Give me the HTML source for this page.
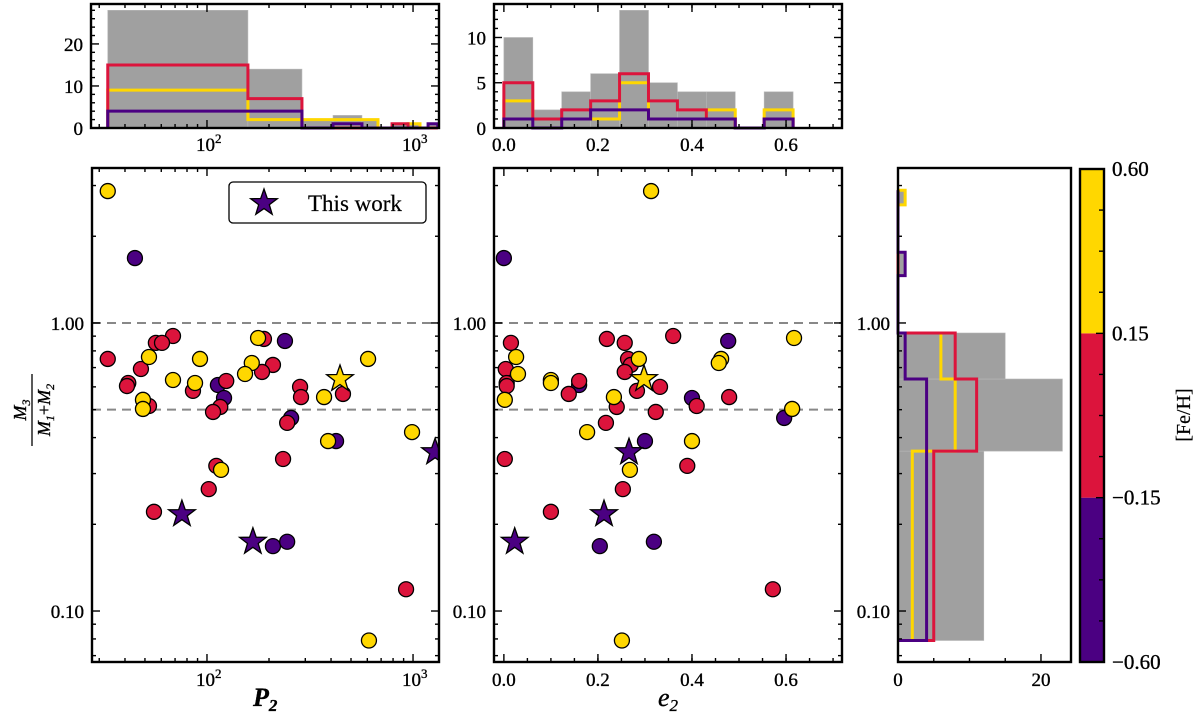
<!DOCTYPE html>
<html><head><meta charset="utf-8"><style>
html,body{margin:0;padding:0;background:#fff;}
svg{display:block;font-family:"Liberation Serif",serif;}
</style></head><body>
<svg id="fig" width="1200" height="720" viewBox="0 0 1200 720" xmlns="http://www.w3.org/2000/svg"></svg>
<script>
// ---------- data ----------
const yelP = [33,177,52.3,92.5,605,165,153,68.4,87.5,370,48.9,48.9,989,387,117,611];
const yelQ = [2.87,0.887,0.762,0.75,0.75,0.726,0.665,0.634,0.619,0.553,0.541,0.503,0.418,0.389,0.309,0.079];
const yelE = [0.313,0.617,0.026,0.287,0.462,0.457,0.030,0.1,0.1,0.234,0.002,0.613,0.177,0.40,0.268,0.251];
const redP = [68.4,189,56.5,60.5,33,209,47.8,185,124,41.5,40.9,283,85.5,457,286,52.3,116,107,245,234,111,102,55.3,925];
const redQ = [0.901,0.880,0.853,0.853,0.75,0.715,0.692,0.676,0.629,0.619,0.604,0.600,0.581,0.567,0.553,0.515,0.511,0.491,0.450,0.337,0.319,0.265,0.221,0.119];
const redE = [0.36,0.219,0.015,0.257,0.264,0.27,0.004,0.257,0.16,0.006,0.006,0.332,0.283,0.138,0.479,0.41,0.24,0.323,0.217,0.002,0.39,0.253,0.1,0.572];
const purP = [44.7,239,113,121,256,423,209,245];
const purQ = [1.68,0.866,0.609,0.549,0.468,0.389,0.168,0.174];
const purE = [0.0,0.477,0.16,0.40,0.596,0.3,0.204,0.319];
const starP = [1279,75.6,167,442];
const starQ = [0.356,0.217,0.174,0.639];
const starE = [0.266,0.213,0.023,0.298];
const starFeh = [-0.3,-0.3,-0.3,0.3];
const tlLo = [33,158,289,409,565,791,946,1183];
const tlHi = [158,289,409,565,676,946,1081,1318];
const tlGray = [28,14,2,3,2,1,1,1];
const tlYel = [9,2,2,2,2,0,1,0];
const tlRed = [15,7,0,0,0,1,0,0];
const tlPur = [4,4,0,1,0,0,0,1];
const tmLo = [0.0,0.0615,0.123,0.1845,0.246,0.3075,0.369,0.4305,0.492,0.5535];
const tmHi = [0.0615,0.123,0.1845,0.246,0.3075,0.369,0.4305,0.492,0.5535,0.615];
const tmGray = [10,2,4,6,13,5,4,4,0,4];
const tmYel = [3,1,1,1,5,1,1,2,0,2];
const tmRed = [5,1,2,3,6,3,2,1,0,1];
const tmPur = [1,0,1,2,2,1,1,1,0,1];
const rhLo = [0.079,0.359,0.639,1.46,2.57];
const rhHi = [0.359,0.639,0.923,1.76,2.89];
const rhGray = [12,23,15,1,1];
const rhYel = [2,8,6,0,1];
const rhRed = [5,11,8,0,0];
const rhPur = [4,4,1,1,0];
const cbBounds = [-0.60,-0.15,0.15,0.60];
const cbLabels = ["\u22120.60","\u22120.15","0.15","0.60"];

// ---------- helpers ----------
const NS="http://www.w3.org/2000/svg";
const svg=document.getElementById('fig');
function el(tag,attrs,parent){const e=document.createElementNS(NS,tag);for(const k in attrs)e.setAttribute(k,attrs[k]);(parent||svg).appendChild(e);return e;}
const YEL="#FFD700",RED="#DC143C",PUR="#4B0082",GRAY="#a0a0a0";
const FS=19;
function fehColor(v){return v>=0.15?YEL:(v>=-0.15?RED:PUR);}

const ML={x0:92,x1:439,y0:168,y1:662};
const MM={x0:494,x1:842,y0:168,y1:662};
const RH={x0:898,x1:1071,y0:168,y1:662};
const TL={x0:91,x1:439,y0:4,y1:128};
const TM={x0:494,x1:842,y0:4,y1:128};
const CB={x0:1080,x1:1104,y0:169,y1:662};
const lpMin=1.442,lpMax=3.126;
const lqMin=-1.177,lqMax=0.538;
const eMin=-0.021,eMax=0.719;
function xP(p){return ML.x0+(Math.log10(p)-lpMin)/(lpMax-lpMin)*(ML.x1-ML.x0);}
function xE(e){return MM.x0+(e-eMin)/(eMax-eMin)*(MM.x1-MM.x0);}
function yQ(q){return ML.y1-(Math.log10(q)-lqMin)/(lqMax-lqMin)*(ML.y1-ML.y0);}
function yTL(c){return TL.y1-c/29.5*(TL.y1-TL.y0);}
function yTM(c){return TM.y1-c/13.7*(TM.y1-TM.y0);}
function xRH(c){return RH.x0+c/24.2*(RH.x1-RH.x0);}

function txt(x,y,s,opts,parent){const t=el('text',Object.assign({x:x,y:y,'font-size':FS,fill:'#000',stroke:'#000','stroke-width':0.35},opts||{}),parent);t.textContent=s;return t;}
function frame(a,name){const r=el('rect',{x:a.x0,y:a.y0,width:a.x1-a.x0,height:a.y1-a.y0,fill:'none',stroke:'#000','stroke-width':2.4});}
function tickX(a,x,len){el('line',{x1:x,x2:x,y1:a.y1,y2:a.y1-len,stroke:'#000','stroke-width':1.4});el('line',{x1:x,x2:x,y1:a.y0,y2:a.y0+len,stroke:'#000','stroke-width':1.4});}
function tickY(a,y,len){el('line',{x1:a.x0,x2:a.x0+len,y1:y,y2:y,stroke:'#000','stroke-width':1.4});el('line',{x1:a.x1,x2:a.x1-len,y1:y,y2:y,stroke:'#000','stroke-width':1.4});}

function stepPathH(lo,hi,cnt,xf,yf){
  let d='M'+xf(lo[0])+','+yf(0);
  for(let i=0;i<lo.length;i++){
    d+=' L'+xf(lo[i])+','+yf(cnt[i])+' L'+xf(hi[i])+','+yf(cnt[i]);
    if(i<lo.length-1 && Math.abs(hi[i]-lo[i+1])>1e-6){d+=' L'+xf(hi[i])+','+yf(0)+' L'+xf(lo[i+1])+','+yf(0);}
  }
  d+=' L'+xf(hi[hi.length-1])+','+yf(0);return d;}
function stepPathV(lo,hi,cnt,xf,yf){
  let d='M'+xf(0)+','+yf(lo[0]);
  for(let i=0;i<lo.length;i++){
    d+=' L'+xf(cnt[i])+','+yf(lo[i])+' L'+xf(cnt[i])+','+yf(hi[i]);
    if(i<lo.length-1 && Math.abs(hi[i]-lo[i+1])>1e-6){d+=' L'+xf(0)+','+yf(hi[i])+' L'+xf(0)+','+yf(lo[i+1]);}
  }
  d+=' L'+xf(0)+','+yf(hi[hi.length-1]);return d;}
function pow10Label(x,y,exp){const t=txt(x-11,y,'10',{});const s=el('tspan',{'font-size':13,dy:-8},t);s.textContent=exp;}

// ---------- top-left hist ----------
for(let i=0;i<tlLo.length;i++){
  const b=el('rect',{x:xP(tlLo[i]),y:yTL(tlGray[i]),width:xP(tlHi[i])-xP(tlLo[i]),height:yTL(0)-yTL(tlGray[i]),fill:GRAY,stroke:'#b8b8b8','stroke-width':0.6});
  
  
}
[[tlYel,YEL,'yellow'],[tlRed,RED,'red'],[tlPur,PUR,'purple']].forEach(s=>{
  const p=el('path',{d:stepPathH(tlLo,tlHi,s[0],xP,yTL),fill:'none',stroke:s[1],'stroke-width':3});
  
  
});
frame(TL,'p2-histogram-axes');
[0,10,20].forEach(v=>{tickY(TL,yTL(v),8);txt(TL.x0-8,yTL(v)+7,String(v),{'text-anchor':'end'});});
for(let v=2;v<=28;v+=2){if(v%10)tickY(TL,yTL(v),4);}
[100,1000].forEach((v,i)=>{tickX(TL,xP(v),8);pow10Label(xP(v),151,i?'3':'2');});
[30,40,50,60,70,80,90,200,300,400,500,600,700,800,900].forEach(v=>tickX(TL,xP(v),4));

// ---------- top-middle hist ----------
for(let i=0;i<tmLo.length;i++){
  if(!tmGray[i])continue;
  const b=el('rect',{x:xE(tmLo[i]),y:yTM(tmGray[i]),width:xE(tmHi[i])-xE(tmLo[i]),height:yTM(0)-yTM(tmGray[i]),fill:GRAY,stroke:'#b8b8b8','stroke-width':0.6});
  
  
}
[[tmYel,YEL,'yellow'],[tmRed,RED,'red'],[tmPur,PUR,'purple']].forEach(s=>{
  const p=el('path',{d:stepPathH(tmLo,tmHi,s[0],xE,yTM),fill:'none',stroke:s[1],'stroke-width':3});
  
  
});
frame(TM,'e2-histogram-axes');
[0,5,10].forEach(v=>{tickY(TM,yTM(v),8);txt(TM.x0-8,yTM(v)+7,String(v),{'text-anchor':'end'});});
for(let v=1;v<=13;v++){if(v%5)tickY(TM,yTM(v),4);}
[0,0.2,0.4,0.6].forEach(v=>{tickX(TM,xE(v),8);txt(xE(v),151,v.toFixed(1),{'text-anchor':'middle'});});
for(let v=0.05;v<0.72;v+=0.05){tickX(TM,xE(v),4);}

// ---------- main panels ----------
function refLines(a){
  [0.5,1.0].forEach(q=>{const l=el('line',{x1:a.x0,x2:a.x1,y1:yQ(q),y2:yQ(q),stroke:'#888','stroke-width':2,'stroke-dasharray':'9,6'});});
}
function yTicksMain(a,labels){
  [0.1,1.0].forEach(v=>{tickY(a,yQ(v),8);if(labels)txt(a.x0-8,yQ(v)+7,v.toFixed(2),{'text-anchor':'end'});});
  [0.07,0.08,0.09,0.2,0.3,0.4,0.5,0.6,0.7,0.8,0.9,2,3].forEach(v=>tickY(a,yQ(v),4));
}
refLines(ML);refLines(MM);
function starPts(cx,cy,R){const r=R*0.4;let s='';for(let k=0;k<10;k++){const ang=-Math.PI/2+k*Math.PI/5;const rr=k%2?r:R;s+=(cx+rr*Math.cos(ang)).toFixed(1)+','+(cy+rr*Math.sin(ang)).toFixed(1)+' ';}return s;}
const defs=el('defs',{});
const cp1=el('clipPath',{id:'cML'},defs);el('rect',{x:ML.x0,y:ML.y0,width:ML.x1-ML.x0,height:ML.y1-ML.y0},cp1);
const gML=el('g',{'clip-path':'url(#cML)'});


function pts(g,xs,qs,color,xf,panel){for(let i=0;i<xs.length;i++){const c=el('circle',{cx:xf(xs[i]),cy:yQ(qs[i]),r:7.5,fill:color,stroke:'#000','stroke-width':1.3},g);}}
function stars(g,xs,xf,panel){for(let i=0;i<xs.length;i++){const s=el('polygon',{points:starPts(xf(xs[i]),yQ(starQ[i]),14),fill:fehColor(starFeh[i]),stroke:'#000','stroke-width':1.3},g);}}
pts(gML,purP,purQ,PUR,xP,'p2');pts(gML,redP,redQ,RED,xP,'p2');pts(gML,yelP,yelQ,YEL,xP,'p2');stars(gML,starP,xP,'p2');
const cp2=el('clipPath',{id:'cMM'},defs);el('rect',{x:MM.x0,y:MM.y0,width:MM.x1-MM.x0,height:MM.y1-MM.y0},cp2);
const gMM=el('g',{'clip-path':'url(#cMM)'});


pts(gMM,purE,purQ,PUR,xE,'e2');pts(gMM,redE,redQ,RED,xE,'e2');pts(gMM,yelE,yelQ,YEL,xE,'e2');stars(gMM,starE,xE,'e2');

frame(ML,'p2-scatter-axes');frame(MM,'e2-scatter-axes');
yTicksMain(ML,true);yTicksMain(MM,true);
[100,1000].forEach((v,i)=>{tickX(ML,xP(v),8);pow10Label(xP(v),686,i?'3':'2');});
[30,40,50,60,70,80,90,200,300,400,500,600,700,800,900].forEach(v=>tickX(ML,xP(v),4));
[0,0.2,0.4,0.6].forEach(v=>{tickX(MM,xE(v),8);txt(xE(v),686,v.toFixed(1),{'text-anchor':'middle'});});
for(let v=0.05;v<0.72;v+=0.05){tickX(MM,xE(v),4);}

// axis labels
const xl1=txt(253,706,'P',{'font-size':26,'font-style':'italic','font-weight':'bold'});

const xl1s=el('tspan',{'font-size':17,dy:5},xl1);xl1s.textContent='2';
const xl2=txt(658,706,'e',{'font-size':26,'font-style':'italic'});

const xl2s=el('tspan',{'font-size':17,dy:5},xl2);xl2s.textContent='2';
const yl=el('g',{transform:'translate(32,410) rotate(-90)'});

const n=txt(0,-6,'M',{'font-size':18,'font-style':'italic','text-anchor':'middle'},yl);const ns=el('tspan',{'font-size':12,dy:4},n);ns.textContent='3';
el('line',{x1:-36,x2:36,y1:0,y2:0,stroke:'#000','stroke-width':1.3},yl);
const dd=txt(0,18,'',{'font-size':18,'font-style':'italic','text-anchor':'middle'},yl);
dd.innerHTML='M<tspan font-size="12" dy="4">1</tspan><tspan font-style="normal" dy="-4">+</tspan>M<tspan font-size="12" dy="4">2</tspan>';

// legend
const lg=el('g',{});

el('rect',{x:229,y:182,width:197,height:41,rx:4,fill:'#fff',stroke:'#000','stroke-width':1.3},lg);
el('polygon',{points:starPts(264,203,14),fill:PUR,stroke:'#000','stroke-width':1.3},lg);
txt(308,211,'This work',{'font-size':23,'stroke-width':0.2},lg);

// ---------- right hist ----------
for(let i=0;i<rhLo.length;i++){
  const b=el('rect',{x:RH.x0,y:yQ(rhHi[i]),width:xRH(rhGray[i])-RH.x0,height:yQ(rhLo[i])-yQ(rhHi[i]),fill:GRAY,stroke:'#b8b8b8','stroke-width':0.6});
  
  
}
[[rhYel,YEL,'yellow'],[rhRed,RED,'red'],[rhPur,PUR,'purple']].forEach(s=>{
  const p=el('path',{d:stepPathV(rhLo,rhHi,s[0],xRH,yQ),fill:'none',stroke:s[1],'stroke-width':3});
  
  
});
frame(RH,'q-histogram-axes');
[0.1,1.0].forEach(v=>{el('line',{x1:RH.x0,x2:RH.x0+8,y1:yQ(v),y2:yQ(v),stroke:'#000','stroke-width':1.4});txt(RH.x0-8,yQ(v)+7,v.toFixed(2),{'text-anchor':'end'});});
[0.07,0.08,0.09,0.2,0.3,0.4,0.5,0.6,0.7,0.8,0.9,2,3].forEach(v=>el('line',{x1:RH.x0,x2:RH.x0+4,y1:yQ(v),y2:yQ(v),stroke:'#000','stroke-width':1.4}));
[0,20].forEach(v=>{el('line',{x1:xRH(v),x2:xRH(v),y1:RH.y1,y2:RH.y1-8,stroke:'#000','stroke-width':1.4});txt(xRH(v),686,String(v),{'text-anchor':'middle'});});
[5,10,15].forEach(v=>el('line',{x1:xRH(v),x2:xRH(v),y1:RH.y1,y2:RH.y1-4,stroke:'#000','stroke-width':1.4}));

// ---------- colorbar ----------
const cbCols=[PUR,RED,YEL];
function yCB(i){return CB.y1-i/3*(CB.y1-CB.y0);}
for(let i=0;i<3;i++){
  const r=el('rect',{x:CB.x0,y:yCB(i+1),width:CB.x1-CB.x0,height:yCB(i)-yCB(i+1),fill:cbCols[i]});
  
  
}
const cbf=el('rect',{x:CB.x0,y:CB.y0,width:CB.x1-CB.x0,height:CB.y1-CB.y0,fill:'none',stroke:'#000','stroke-width':2.4});

for(let i=0;i<4;i++){el('line',{x1:CB.x1-8,x2:CB.x1,y1:yCB(i),y2:yCB(i),stroke:'#000','stroke-width':1.4});txt(CB.x1+8,yCB(i)+7,cbLabels[i],{'font-size':21});}
for(let i=0;i<3;i++){for(let k=1;k<4;k++){const y=yCB(i)+(yCB(i+1)-yCB(i))*k/4;el('line',{x1:CB.x1-5,x2:CB.x1,y1:y,y2:y,stroke:'#000','stroke-width':1.4});}}
const cbt=txt(0,0,'[Fe/H]',{'font-size':20,'text-anchor':'middle','stroke-width':0.2,transform:'translate(1190,415) rotate(-90)'});

</script>
</body></html>
